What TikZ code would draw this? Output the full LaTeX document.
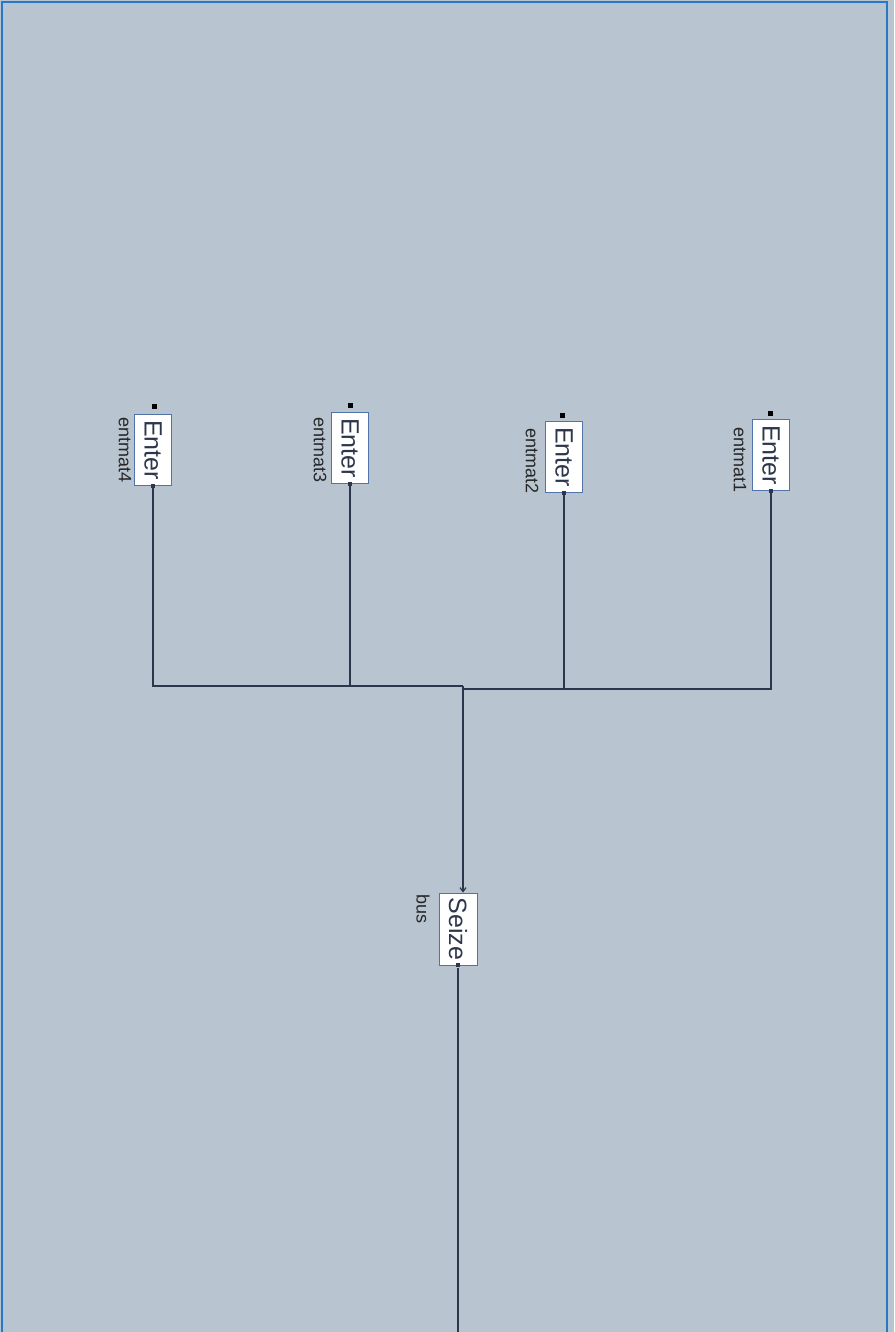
\documentclass[tikz,border=0pt]{standalone}
\usepackage{fontspec}
\setmainfont{Liberation Sans}
\usetikzlibrary{arrows.meta}
\definecolor{bg}{RGB}{184,196,207}
\definecolor{frame}{RGB}{40,120,200}
\definecolor{wire}{RGB}{45,55,75}
\definecolor{boxline}{RGB}{80,115,170}
\tikzset{
  blockbox/.style={draw=boxline, line width=0.8pt, fill=white, inner sep=0pt, minimum width=37pt, minimum height=71pt, font=\fontsize{25}{28}\selectfont, text=wire},
  blocklabel/.style={inner sep=0pt, anchor=north, font=\fontsize{18}{20}\selectfont, text=black!85},
  portin/.style={fill=black, inner sep=0pt, minimum size=5pt},
  portout/.style={fill=wire, inner sep=0pt, minimum size=4pt},
  wireline/.style={draw=wire, line width=1.2pt}
}
\begin{document}
\begin{tikzpicture}[x=1pt,y=-1pt]
\useasboundingbox (0,0) rectangle (894,1332);
\fill[bg] (0,0) rectangle (894,1332);
\draw[frame, line width=2pt] (1.5,1332) -- (1.5,2) -- (887,2) -- (887,1332);

% Enter blocks
\node[blockbox] (e4) at (153,450) {\rotatebox{-90}{Enter}};
\node[blockbox] (e3) at (350,448) {\rotatebox{-90}{Enter}};
\node[blockbox] (e2) at (564,457) {\rotatebox{-90}{Enter}};
\node[blockbox] (e1) at (771,455) {\rotatebox{-90}{Enter}};

\node[blocklabel] (l4) at (125,417) {\rotatebox{-90}{entmat4}};
\node[blocklabel] (l3) at (320,417) {\rotatebox{-90}{entmat3}};
\node[blocklabel] (l2) at (532,428) {\rotatebox{-90}{entmat2}};
\node[blocklabel] (l1) at (740,427) {\rotatebox{-90}{entmat1}};

\node[portin] (p4) at (154,406) {};
\node[portin] (p3) at (350,405) {};
\node[portin] (p2) at (562,415) {};
\node[portin] (p1) at (770,413) {};

\node[portout] (o4) at (e4.south) {};
\node[portout] (o3) at (e3.south) {};
\node[portout] (o2) at (e2.south) {};
\node[portout] (o1) at (e1.south) {};

% Seize block
\node[blockbox, minimum width=38pt, minimum height=72pt] (seize) at (458,929) {\rotatebox{-90}{Seize}};
\node[blocklabel] (lbus) at (423,894) {\rotatebox{-90}{bus}};
\node[portout] (so) at (seize.south) {};

% junctions
\coordinate (j1) at (463,686);
\coordinate (j2) at (463,689);
\coordinate (bottomend) at (458,1332);

\draw[wireline] (o4) |- (j1);
\draw[wireline] (o3) -- (o3 |- j1);
\draw[wireline] (o2) |- (j2);
\draw[wireline] (o1) |- (j2);
\draw[wireline, -{Straight Barb[length=4pt,width=6pt]}] (j1) -- (j1 |- seize.north);
\draw[wireline] (so) -- (so |- bottomend);
\end{tikzpicture}
\end{document}
